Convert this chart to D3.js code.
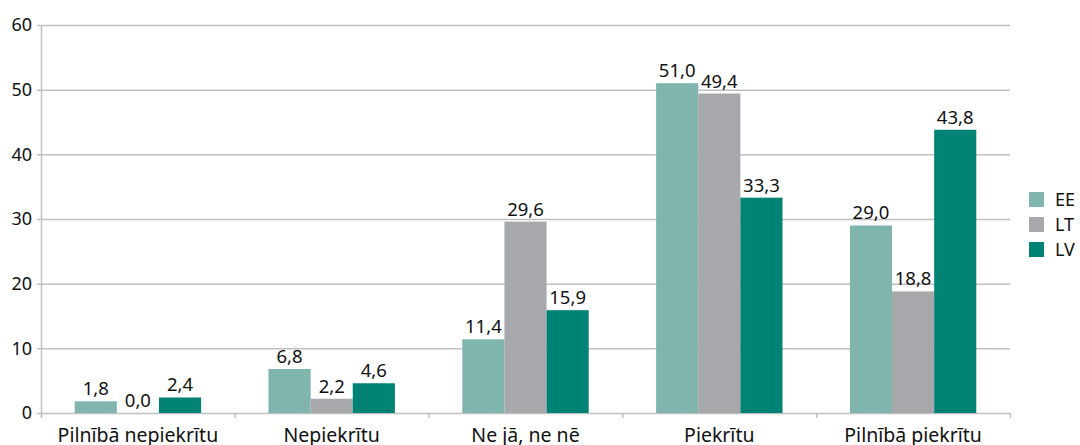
<!DOCTYPE html>
<html>
<head>
<meta charset="utf-8">
<script src="https://cdn.jsdelivr.net/npm/d3@7"></script>
<style>
  body { margin: 0; background: #fff; }
  svg { display: block; font-family: "Source Sans Pro", "Noto Sans", sans-serif; }
</style>
</head>
<body>
<div id="chart"></div>
<script>
const categories = ["Pilnībā nepiekrītu", "Nepiekrītu", "Ne jā, ne nē", "Piekrītu", "Pilnībā piekrītu"]
const seriesNames = ["EE", "LT", "LV"]
const EE = [1.8, 6.8, 11.4, 51.0, 29.0]
const LT = [0.0, 2.2, 29.6, 49.4, 18.8]
const LV = [2.4, 4.6, 15.9, 33.3, 43.8]
const yTicks = [0, 10, 20, 30, 40, 50, 60]
const colors = ["#7fb5ad", "#a7a8ac", "#008274"]

const W = 1080, H = 445
const plotLeft = 41, plotRight = 1010, plotTop = 25, plotBottom = 413

const svg = d3.select("#chart").append("svg")
    .attr("width", W).attr("height", H)

const x = d3.scaleBand().domain(categories).range([plotLeft, plotRight]).padding(0)
const xs = d3.scaleBand().domain(seriesNames)
    .range([0, x.bandwidth()]).paddingOuter(0.8).paddingInner(0)
const y = d3.scaleLinear().domain([0, 60]).range([plotBottom, plotTop])

// gridlines
svg.append("g").selectAll("line")
  .data(yTicks.slice(1))
  .enter().append("line")
    .attr("x1", plotLeft - 4).attr("x2", plotRight)
    .attr("y1", d => y(d) + 0.5).attr("y2", d => y(d) + 0.5)
    .style("stroke", "#c0c0c0").style("stroke-width", 1.5)

// y tick labels
svg.append("g").selectAll("text")
  .data(yTicks)
  .enter().append("text")
    .attr("x", plotLeft - 9).attr("y", d => y(d))
    .attr("dy", "0.35em").attr("text-anchor", "end")
    .style("font-size", "18px").style("fill", "#111")
    .text(d => d)

// axes lines
svg.append("line")
  .attr("x1", plotLeft + 0.5).attr("x2", plotLeft + 0.5)
  .attr("y1", plotTop).attr("y2", plotBottom + 4)
  .style("stroke", "#c0c0c0").style("stroke-width", 1.5)
svg.append("line")
  .attr("x1", plotLeft - 4).attr("x2", plotRight)
  .attr("y1", plotBottom + 0.5).attr("y2", plotBottom + 0.5)
  .style("stroke", "#c0c0c0").style("stroke-width", 1.5)
svg.append("g").selectAll("line")
  .data(d3.range(categories.length + 1))
  .enter().append("line")
    .attr("x1", i => plotLeft + i * x.bandwidth() + 0.5)
    .attr("x2", i => plotLeft + i * x.bandwidth() + 0.5)
    .attr("y1", plotBottom).attr("y2", plotBottom + 5)
    .style("stroke", "#c0c0c0").style("stroke-width", 1.5)

const data = categories.map((c, i) => ({
  cat: c,
  vals: [EE[i], LT[i], LV[i]].map((v, j) => ({ s: seriesNames[j], v: v, c: colors[j] }))
}))

const groups = svg.append("g").selectAll("g")
  .data(data)
  .enter().append("g")
    .attr("transform", d => `translate(${x(d.cat)},0)`)

groups.selectAll("rect")
  .data(d => d.vals)
  .enter().append("rect")
    .attr("x", d => xs(d.s))
    .attr("width", xs.bandwidth())
    .attr("y", d => y(d.v))
    .attr("height", d => plotBottom - y(d.v))
    .style("fill", d => d.c)

groups.selectAll("text")
  .data(d => d.vals)
  .enter().append("text")
    .attr("x", d => xs(d.s) + xs.bandwidth() / 2)
    .attr("y", d => y(d.v) - 6)
    .attr("text-anchor", "middle")
    .style("font-size", "18.5px").style("fill", "#111")
    .text(d => d3.format(".1f")(d.v).replace(".", ","))

// category labels
svg.append("g").selectAll("text")
  .data(categories)
  .enter().append("text")
    .attr("x", d => x(d) + x.bandwidth() / 2)
    .attr("y", plotBottom + 29)
    .attr("text-anchor", "middle")
    .style("font-size", "19.5px").style("fill", "#111")
    .text(d => d)

// legend
const legend = svg.append("g").selectAll("g")
  .data(seriesNames)
  .enter().append("g")
    .attr("transform", (d, i) => `translate(1029,${192 + i * 25})`)
legend.append("rect")
  .attr("width", 15).attr("height", 15)
  .style("fill", (d, i) => colors[i])
legend.append("text")
  .attr("x", 26).attr("y", 8).attr("dy", "0.35em")
  .style("font-size", "18px").style("fill", "#111")
  .text(d => d)
</script>
</body>
</html>
